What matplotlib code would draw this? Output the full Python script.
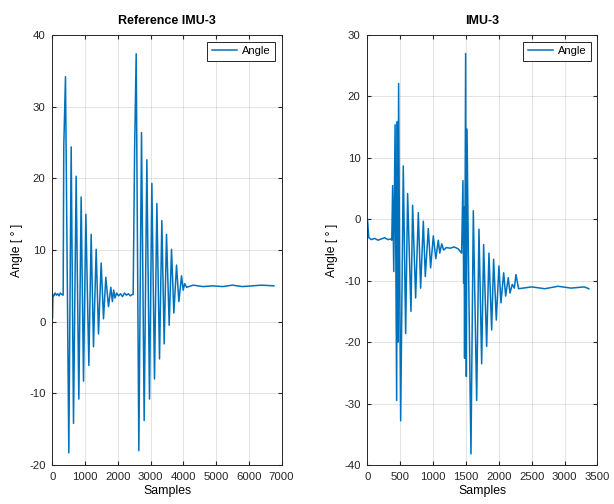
import matplotlib
matplotlib.use("Agg")
import matplotlib.pyplot as plt
import numpy as np

plt.rcParams['font.family'] = ['Liberation Sans', 'DejaVu Sans']
plt.rcParams['axes.unicode_minus'] = False

# Reference IMU-3 : sample index and angle (peaks / troughs / baseline)
ref_samples = [0, 15, 40, 80, 120, 160, 200, 240, 280, 326, 345, 397,
               499, 571, 642, 723, 805, 876, 948, 1019, 1111, 1182, 1253, 1335,
               1406, 1488, 1559, 1630, 1712, 1783, 1830, 1870, 1910, 1960, 2020,
               2080, 2140, 2200, 2260, 2320, 2380, 2440, 2466, 2510, 2558,
               2639, 2721, 2802, 2884, 2965, 3037, 3118, 3190, 3271, 3342, 3414,
               3485, 3567, 3638, 3709, 3791, 3862, 3944, 3995, 4040, 4100, 4300,
               4600, 4900, 5200, 5500, 5800, 6100, 6400, 6766]
ref_angle = [0.5, 3.8, 3.6, 4.0, 3.7, 3.9, 3.6, 4.0, 3.8, 3.7, 24.5, 34.2,
             -18.3, 24.4, -14.2, 20.3, -10.8, 17.4, -8.3, 15.0, -6.1, 12.2, -3.5, 10.1,
             -1.7, 8.2, 0.4, 6.2, 2.1, 4.8, 2.8, 4.4, 3.3, 4.0, 3.6,
             3.9, 3.5, 4.0, 3.7, 3.9, 3.6, 3.8, 3.8, 24.0, 37.4,
             -18.0, 26.4, -13.8, 22.6, -10.8, 19.3, -8.0, 16.5, -5.2, 14.1, -3.1,
             12.2, -0.5, 10.1, 1.2, 7.9, 2.8, 6.4, 4.4, 5.3, 4.8, 5.1,
             4.9, 5.0, 4.9, 5.1, 4.9, 5.0, 5.1, 5.0]

# IMU-3
imu_samples = [0, 20, 60, 110, 160, 210, 260, 310, 355, 370, 383, 400, 420, 444,
               454, 464, 474, 490, 505, 545, 581, 611, 662, 687, 733, 774, 809,
               850, 880, 926, 961, 1002, 1040, 1078, 1100, 1130, 1160, 1200, 1260,
               1320, 1380, 1433, 1453, 1464, 1470, 1478, 1494, 1505, 1515, 1535,
               1575, 1611, 1662, 1697, 1738, 1768, 1814, 1849, 1890, 1920, 1961,
               2001, 2032, 2073, 2103, 2143, 2169, 2204, 2235, 2260, 2300, 2500,
               2700, 2900, 3100, 3300, 3369]
imu_angle = [0.0, -3.0, -3.3, -3.1, -3.4, -3.2, -3.0, -3.3, -3.2, -3.4, 5.5, -8.5, 15.4, -29.5,
             15.9, -20.0, 22.1, -10.0, -32.8, 8.7, -18.6, 4.2, -15.0, 2.3, -12.8, 1.1, -11.2,
             -0.3, -9.3, -1.5, -7.9, -2.7, -6.4, -3.4, -5.5, -4.0, -5.0, -4.6, -4.7,
             -4.5, -4.8, -5.5, 6.3, -10.4, 2.0, -22.6, 27.0, -25.6, 14.7, -5.0,
             -38.2, 1.4, -29.5, -1.6, -23.5, -4.1, -20.7, -5.5, -18.0, -6.5, -16.4,
             -7.6, -13.6, -8.7, -12.5, -9.5, -12.0, -10.6, -11.2, -9.0, -11.3, -11.0,
             -11.3, -10.9, -11.2, -11.0, -11.3]

line_color = '#0072BD'

fig = plt.figure(figsize=(6.14, 5.04), dpi=100)
ax1 = fig.add_axes([0.0855, 0.0774, 0.373, 0.853])
ax2 = fig.add_axes([0.5985, 0.0774, 0.3745, 0.853])

panels = [
    (ax1, ref_samples, ref_angle, 'Reference IMU-3', (0, 7000), np.arange(0, 7001, 1000), (-20, 40), np.arange(-20, 41, 10)),
    (ax2, imu_samples, imu_angle, 'IMU-3', (0, 3500), np.arange(0, 3501, 500), (-40, 30), np.arange(-40, 31, 10)),
]

for ax, xs, ys, title, xl, xt, yl, yt in panels:
    ax.plot(xs, ys, color=line_color, linewidth=1.1, label='Angle')
    ax.set_xlim(*xl)
    ax.set_ylim(*yl)
    ax.set_xticks(xt)
    ax.set_yticks(yt)
    ax.grid(True, color='#262626', alpha=0.15, linewidth=0.6)
    ax.tick_params(direction='in', top=True, right=True, labelsize=8.2, length=3,
                   color='#262626', labelcolor='#262626', pad=5)
    for s in ax.spines.values():
        s.set_color('#262626')
        s.set_linewidth(0.7)
    ax.set_title(title, fontsize=9, fontweight='bold', pad=8)
    ax.set_xlabel('Samples', fontsize=8.8, labelpad=2)
    ax.set_ylabel('Angle [ ° ]', fontsize=8.8, labelpad=4)
    leg = ax.legend(loc='upper right', fontsize=8, fancybox=False, framealpha=1,
                    handlelength=2.3, borderpad=0.4, handletextpad=0.4,
                    borderaxespad=0.6)
    leg.get_frame().set_edgecolor('#262626')
    leg.get_frame().set_linewidth(0.7)

fig.savefig('out.png', dpi=100)
